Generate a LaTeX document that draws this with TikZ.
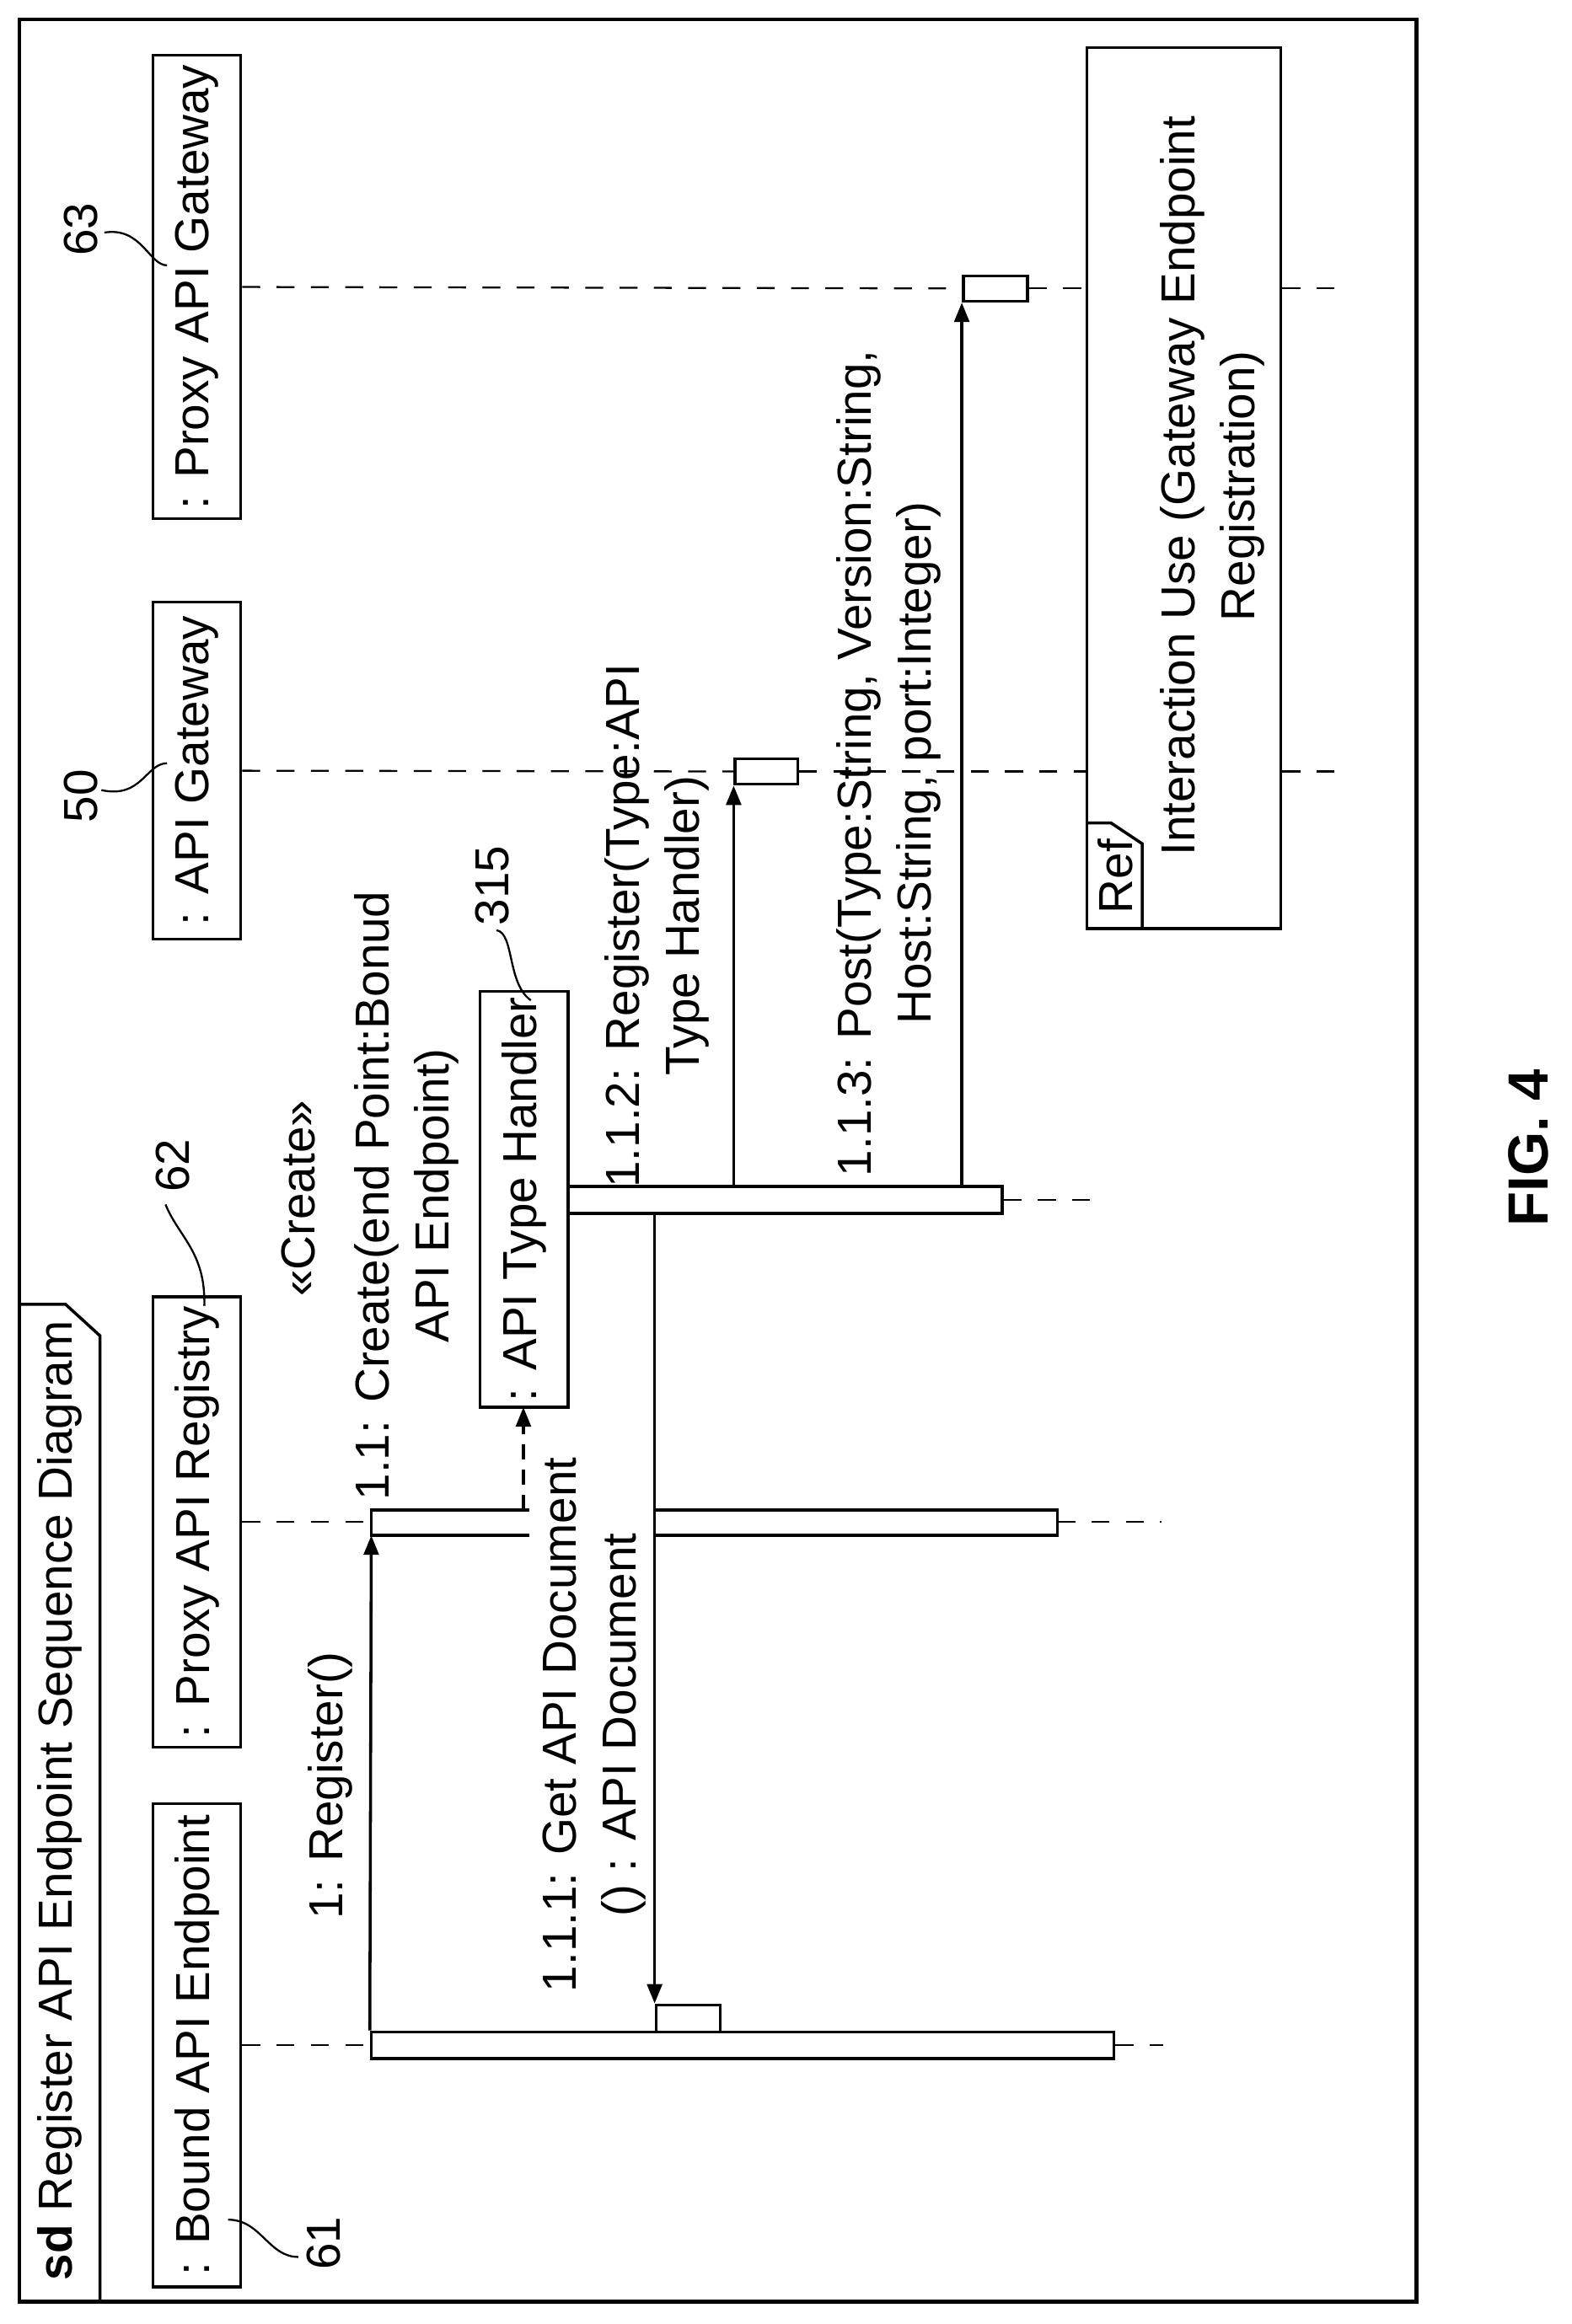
\documentclass[tikz,border=0pt]{standalone}
\usepackage{fontspec}
\setmainfont{Liberation Sans}
\usetikzlibrary{arrows.meta}
\begin{document}
\begin{tikzpicture}[x=1pt,y=-1pt,
  every node/.style={font=\fontsize{32}{40}\selectfont, inner sep=0pt},
  life/.style={draw, line width=2pt, rotate=90, minimum height=59pt},
  lbl/.style={rotate=90, align=center},
  act/.style={draw, line width=2pt, fill=white, inner sep=0pt},
  lifeline/.style={line width=1.3pt, dash pattern=on 12pt off 11pt},
  msg/.style={line width=2pt, -{Triangle[length=13pt,width=10pt]}},
  lead/.style={line width=1.3pt}]
\useasboundingbox (0,0) rectangle (1054,1559);
% frame
\draw[line width=2.5pt] (13,13) rectangle (950,1544);
\draw[line width=2pt] (13,875) -- (44,875) -- (67,896) -- (67,1544);
\node[lbl, anchor=west] (title) at (40,1530) {\textbf{sd} Register API Endpoint Sequence Diagram};
% lifeline heads
\node[life, minimum width=324pt] (bound) at (132,1372) {: Bound API Endpoint};
\node[life, minimum width=302pt] (reg) at (132,1021) {: Proxy API Registry};
\node[life, minimum width=226pt] (gw) at (132,517) {: API Gateway};
\node[life, minimum width=311pt] (pgw) at (132,192.5) {: Proxy API Gateway};
\node[life, minimum width=279pt] (th) at (351.5,804.5) {: API Type Handler};
% activations
\node[act, minimum width=498pt, minimum height=18pt] (bBar) at (498,1372) {};
\node[act, minimum width=43pt, minimum height=18pt] (bSmall) at (461.5,1354) {};
\node[act, minimum width=291pt, minimum height=18pt] (hBar) at (526.5,805) {};
\node[act, minimum width=42pt, minimum height=17pt] (gwAct) at (514,517.5) {};
\node[act, minimum width=43pt, minimum height=17pt] (pgAct) at (667.5,193.5) {};
\draw[line width=2pt] (355,1013) -- (249,1013) -- (249,1030) -- (355,1030);
\draw[line width=2pt] (440,1013) -- (709,1013) -- (709,1030) -- (440,1030);
\coordinate (rL) at (249,1030);
\coordinate (rC) at (351,1013);
\coordinate (rR) at (709,1021);
\coordinate (thB) at (351,944);
% ref box
\node[draw, line width=2pt, minimum width=130pt, minimum height=591pt] (ref) at (794,327.5) {};
\draw[line width=2pt] (729,552) -- (745,552) -- (766,566) -- (766,623);
\node[rotate=90] (reft) at (748,588) {Ref};
\node[lbl] (reftxt) at (813,326) {Interaction Use (Gateway Endpoint\\Registration)};
% lifelines
\draw[lifeline] (bound.south) -- (bBar.west);
\draw[lifeline] (bBar.east) -- ++(32,0) coordinate (bEnd);
\draw[lifeline] (reg.south) -- (249,1021);
\draw[lifeline] (rR) -- ++(70,0) coordinate (rEnd);
\draw[lifeline] (hBar.east) -- ++(58,0) coordinate (hEnd);
\draw[lifeline] (gw.south) -- (gwAct.west);
\draw[lifeline] (gwAct.east) -- (ref.west |- gwAct.east);
\draw[lifeline] (ref.east |- gwAct.east) -- ++(37,0) coordinate (gwEnd);
\draw[lifeline] (pgw.south) -- (pgAct.west);
\draw[lifeline] (pgAct.east) -- (ref.west |- pgAct.east);
\draw[lifeline] (ref.east |- pgAct.east) -- ++(37,0) coordinate (pgEnd);
% messages
\draw[msg] (bBar.north west) -- (rL);
\draw[msg, dash pattern=on 10pt off 7pt] (rC) -- (thB);
\draw[msg] (bSmall.north west |- hBar.south) -- (bSmall.north west);
\draw[msg] (gwAct.south west |- hBar.north) -- (gwAct.south west);
\draw[msg] (pgAct.south west |- hBar.north) -- (pgAct.south west);
% labels
\node[lbl] (m1) at (221.6,1198) {1: Register()};
\node[lbl] (cr) at (200,804) {<<Create>>};
\node[lbl] (m11) at (272.5,802) {1.1: Create(end Point:Bonud\\API Endpoint)};
\node[lbl] (m111) at (398.5,1157) {1.1.1: Get API Document\\() : API Document};
\node[lbl] (m112) at (440.5,621) {1.1.2: Register(Type:API\\Type Handler)};
\node[lbl] (m113) at (596,512) {1.1.3: Post(Type:String, Version:String,\\Host:String, port:Integer)};
% reference numbers
\node[lbl] (n61) at (217,1505) {61};
\draw[lead] (153,1489) .. controls (175,1489) and (180,1514) .. (200,1514);
\node[lbl] (n62) at (116,782) {62};
\draw[lead] (111,808) .. controls (120,830) and (138,840) .. (137,876);
\node[lbl] (n63) at (54,154) {63};
\draw[lead] (70,156) .. controls (95,152) and (100,178) .. (112,178);
\node[lbl] (n50) at (54,534) {50};
\draw[lead] (68,530) .. controls (95,536) and (98,512) .. (112,512);
\node[lbl] (n315) at (330,594) {315};
\draw[lead] (333,624) .. controls (345,626) and (340,660) .. (356,671);
\node[rotate=90, font=\fontsize{38}{40}\selectfont\bfseries] (fig) at (1025,770) {FIG. 4};
\end{tikzpicture}
\end{document}
